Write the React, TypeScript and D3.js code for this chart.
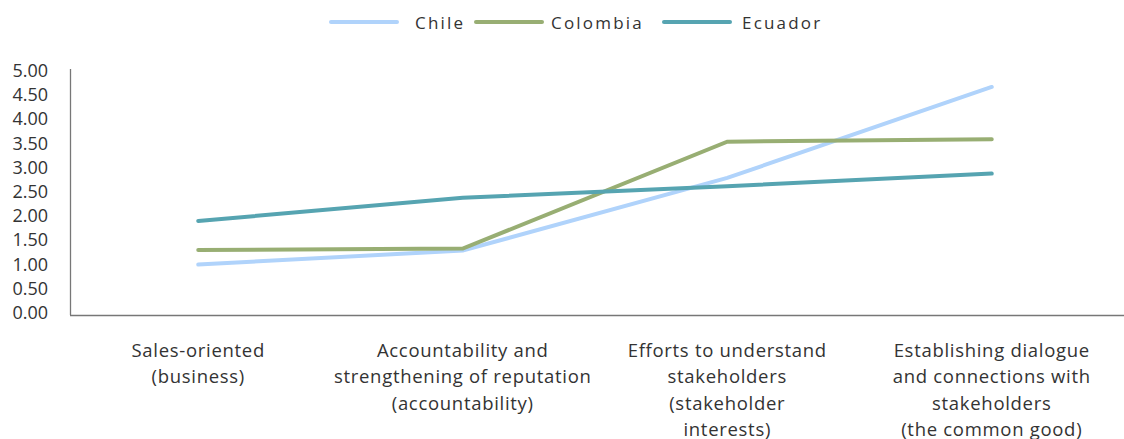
import React from "react";
import * as d3 from "d3";

const categories: string[][] = [
  ["Sales-oriented", "(business)"],
  ["Accountability and", "strengthening of reputation", "(accountability)"],
  ["Efforts to understand", "stakeholders", "(stakeholder", "interests)"],
  ["Establishing dialogue", "and connections with", "stakeholders", "(the common good)"],
];
const seriesNames = ["Chile", "Colombia", "Ecuador"];
const chile = [0.98, 1.27, 2.77, 4.65];
const colombia = [1.28, 1.31, 3.52, 3.57];
const ecuador = [1.88, 2.36, 2.6, 2.86];
const yTicks = [0, 0.5, 1, 1.5, 2, 2.5, 3, 3.5, 4, 4.5, 5];
const colors = ["#b0d3fb", "#98ae73", "#56a4b1"];

const W = 1124;
const H = 439;
const FONT = "'Open Sans', 'Noto Sans', sans-serif";

export default function App() {
  const series = [chile, colombia, ecuador];
  const x = d3
    .scalePoint<number>()
    .domain(d3.range(categories.length))
    .range([66, 1124])
    .padding(0.5);
  const y = d3.scaleLinear().domain([0, 5]).range([312, 70]);
  const line = d3
    .line<number>()
    .x((_, i) => x(i) as number)
    .y((d) => y(d));

  const legendItems = [
    { lx: 331, tx: 415 },
    { lx: 476, tx: 551 },
    { lx: 664, tx: 742 },
  ];

  return (
    <svg
      width={W}
      height={H}
      style={{ position: "absolute", left: 0, top: 0, background: "#fff" }}
      fontFamily={FONT}
    >
      {/* legend */}
      {seriesNames.map((n, i) => (
        <g key={n}>
          <line
            x1={legendItems[i].lx}
            x2={legendItems[i].lx + 66}
            y1={22}
            y2={22}
            stroke={colors[i]}
            strokeWidth={4}
            strokeLinecap="round"
          />
          <text
            x={legendItems[i].tx}
            y={22}
            dominantBaseline="central"
            fontSize={17}
            letterSpacing={2.2}
            fill="#333"
          >
            {n}
          </text>
        </g>
      ))}

      {/* y tick labels */}
      {yTicks.map((t) => (
        <text
          key={t}
          x={48}
          y={y(t)}
          textAnchor="end"
          dominantBaseline="central"
          fontSize={18}
          fill="#333"
        >
          {t.toFixed(2)}
        </text>
      ))}

      {/* axes */}
      <line x1={70.5} x2={70.5} y1={69} y2={315} stroke="#777" strokeWidth={1.3} />
      <line x1={70} x2={1124} y1={315.5} y2={315.5} stroke="#777" strokeWidth={1.3} />

      {/* lines */}
      {series.map((s, i) => (
        <path
          key={i}
          d={line(s) as string}
          fill="none"
          stroke={colors[i]}
          strokeWidth={4}
          strokeLinecap="round"
          strokeLinejoin="miter"
        />
      ))}

      {/* category labels */}
      {categories.map((lines, i) => (
        <text
          key={i}
          x={x(i) as number}
          textAnchor="middle"
          fontSize={18.5}
          letterSpacing={0.7}
          fill="#333"
        >
          {lines.map((l, j) => (
            <tspan key={j} x={x(i) as number} y={357 + j * 26.3}>
              {l}
            </tspan>
          ))}
        </text>
      ))}
    </svg>
  );
}
